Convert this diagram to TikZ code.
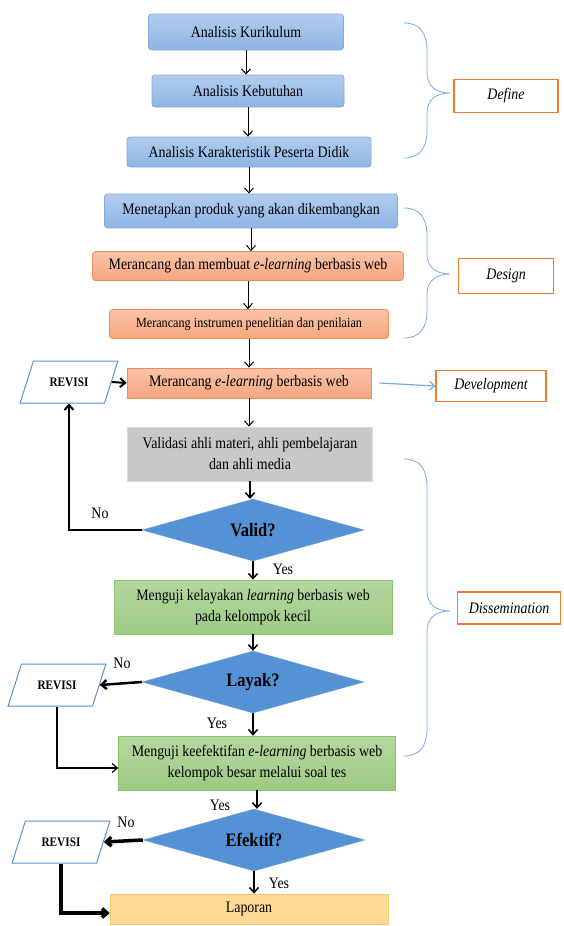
\documentclass[tikz,border=0pt]{standalone}
\usepackage{fontspec}
\setmainfont{Liberation Serif}[FakeStretch=0.87]
\usetikzlibrary{arrows.meta,shapes.geometric,calc}
\definecolor{bluetop}{RGB}{178,204,238}
\definecolor{bluebot}{RGB}{141,180,227}
\definecolor{blueline}{RGB}{130,170,222}
\definecolor{orangetop}{RGB}{250,196,170}
\definecolor{orangebot}{RGB}{245,165,125}
\definecolor{orangeline}{RGB}{240,140,90}
\definecolor{grayfill}{RGB}{200,200,200}
\definecolor{grayline}{RGB}{218,218,218}
\definecolor{greentop}{RGB}{180,215,160}
\definecolor{greenbot}{RGB}{158,202,132}
\definecolor{greenline}{RGB}{140,195,110}
\definecolor{yellowfill}{RGB}{255,217,150}
\definecolor{yellowline}{RGB}{250,200,100}
\definecolor{diamfill}{RGB}{85,145,213}
\definecolor{diamline}{RGB}{110,160,220}
\definecolor{revline}{RGB}{85,145,213}
\definecolor{phaseline}{RGB}{237,125,49}
\definecolor{braceblue}{RGB}{120,170,230}
\def\sidebrace(#1:#2:#3){\draw[braceline] (404,#1) .. controls (420,#1) and (427,#1+10) .. (427,#1+28) -- (427,#2-20) .. controls (427,#2-7) and (436,#2) .. (450,#2) .. controls (436,#2) and (427,#2+7) .. (427,#2+20) -- (427,#3-28) .. controls (427,#3-10) and (420,#3) .. (404,#3);}
\tikzset{
  box/.style={line width=0.8pt, inner sep=0pt, font=\fontsize{16}{21}\selectfont, align=center},
  bluebox/.style={box, draw=blueline, top color=bluetop, bottom color=bluebot, rounded corners=3pt},
  orangebox/.style={box, draw=orangeline, top color=orangetop, bottom color=orangebot, rounded corners=3pt},
  graybox/.style={box, draw=grayline, fill=grayfill},
  greenbox/.style={box, draw=greenline, top color=greentop, bottom color=greenbot},
  yellowbox/.style={box, draw=yellowline, fill=yellowfill},
  decision/.style={diamond, draw=diamline, fill=diamfill, aspect=3.5, inner sep=0pt, minimum width=222pt, minimum height=62pt, font=\fontsize{19}{22}\selectfont\bfseries},
  revisi/.style={trapezium, trapezium left angle=61, trapezium right angle=119, trapezium stretches, draw=revline, fill=white, line width=1pt, minimum width=98pt, minimum height=42pt, font=\fontsize{13}{15}\selectfont\bfseries},
  phase/.style={draw=phaseline, line width=1.2pt, fill=white, inner sep=0pt, font=\fontsize{16}{18}\selectfont\itshape},
  flow/.style={-{Straight Barb[length=5pt,width=9pt]}, line width=1pt},
  backflow/.style={flow, line width=2pt},
  braceline/.style={draw=braceblue, line width=0.8pt},
  answer/.style={font=\fontsize{16}{18}\selectfont}
}
\begin{document}
\begin{tikzpicture}[x=1pt, y=-1pt]
		%%%%% START %%%%%
		\useasboundingbox (0,0) rectangle (563,926);
		
		\node[bluebox, minimum width=195pt, minimum height=36pt] (kur) at (246, 32) {Analisis Kurikulum};
		\node[bluebox, minimum width=192pt, minimum height=32pt] (keb) at (248, 91) {Analisis Kebutuhan};
		\node[bluebox, minimum width=244pt, minimum height=30pt] (kar) at (249, 152) {Analisis Karakteristik Peserta Didik};
		\node[bluebox, minimum width=293pt, minimum height=34pt] (pro) at (251, 211) {Menetapkan produk yang akan dikembangkan};
		
		\node[orangebox, minimum width=311pt, minimum height=29pt] (buat) at (248, 266) {Merancang dan membuat \textit{e-learning} berbasis web};
		\node[orangebox, minimum width=279pt, minimum height=29pt, font=\fontsize{14}{16}\selectfont] (ins) at (249, 324) {Merancang instrumen penelitian dan penilaian};
		\node[orangebox, rounded corners=0pt, minimum width=244pt, minimum height=30pt] (mel) at (249, 383) {Merancang \textit{e-learning} berbasis web};
		
		\node[graybox, minimum width=245pt, minimum height=54pt] (val) at (250, 454) {Validasi ahli materi, ahli pembelajaran\\dan ahli media};
		\node[decision] (dval) at (253, 530) {Valid?};
		\node[greenbox, minimum width=278pt, minimum height=54pt] (kel) at (253, 607) {Menguji kelayakan \textit{learning} berbasis web\\pada kelompok kecil};
		\node[decision] (dlay) at (253, 682) {Layak?};
		\node[greenbox, minimum width=277pt, minimum height=54pt] (efk) at (257, 763) {Menguji keefektifan \textit{e-learning} berbasis web\\kelompok besar melalui soal tes};
		\node[decision] (def) at (254, 840) {Efektif?};
		\node[yellowbox, minimum width=278pt, minimum height=30pt] (lap) at (249, 909) {Laporan};
		
		\node[revisi] (rev1) at (69, 382) {REVISI};
		\node[revisi] (rev2) at (57, 685) {REVISI};
		\node[revisi] (rev3) at (61, 842) {REVISI};
		
		\node[phase, minimum width=104pt, minimum height=33pt] (define) at (506, 96) {Define};
		\node[phase, minimum width=95pt, minimum height=35pt] (design) at (506, 276) {Design};
		\node[phase, minimum width=110pt, minimum height=31pt] (devel) at (491, 386) {Development};
		\node[phase, minimum width=103pt, minimum height=32pt] (dissem) at (509, 608) {Dissemination};
		
		\sidebrace(23:93:158)
		\sidebrace(208:274:338)
		\sidebrace(459:611:756)
		
		\draw[flow] (kur.south) -- (kur.south |- keb.north);
		\draw[flow] (keb.south) -- (keb.south |- kar.north);
		\draw[flow] (kar.south) -- (kar.south |- pro.north);
		\draw[flow] (pro.south) -- (pro.south |- buat.north);
		\draw[flow] (buat.south) -- (buat.south |- ins.north);
		\draw[flow] (ins.south) -- (ins.south |- mel.north);
		\draw[flow] (mel.south) -- (mel.south |- val.north);
		\draw[flow, line width=1.5pt] (val.south) -- (val.south |- dval.north);
		\draw[flow, line width=1.5pt] (dval.south) -- (dval.south |- kel.north);
		\draw[flow, line width=1.5pt] (kel.south) -- (kel.south |- dlay.north);
		\draw[flow, line width=1.5pt] (dlay.south) -- (dlay.south |- efk.north);
		\draw[flow, line width=1.5pt] (efk.south) -- (efk.south |- def.north);
		\draw[flow, line width=1.5pt] (def.south) -- (def.south |- lap.north);
		
		\draw[flow, draw=braceblue, line width=1.2pt] ([xshift=8pt]mel.east) -- (devel.west);
		
		\draw[backflow] (rev1.east) -- (mel.west);
		\draw[backflow] (dval.west) -| (rev1.south);
		\draw[backflow, line width=2.5pt] (dlay.west) -- (rev2.east);
		\draw[flow, line width=1.2pt] (rev2.south) |- ([yshift=-5pt]efk.west);
		\draw[backflow, line width=3.5pt] (def.west) -- (rev3.east);
		\draw[backflow, line width=3.5pt] (rev3.south) |- ([yshift=-4pt]lap.west);
		
		\node[answer] (no1) at (100, 513) {No};
		\node[answer] (yes1) at (283, 569) {Yes};
		\node[answer] (no2) at (122, 663) {No};
		\node[answer] (yes2) at (217, 723) {Yes};
		\node[answer] (yes3) at (220, 805) {Yes};
		\node[answer] (no3) at (126, 822) {No};
		\node[answer] (yes4) at (279, 883) {Yes};
		
		%%%%% END %%%%%
\end{tikzpicture}
\end{document}
